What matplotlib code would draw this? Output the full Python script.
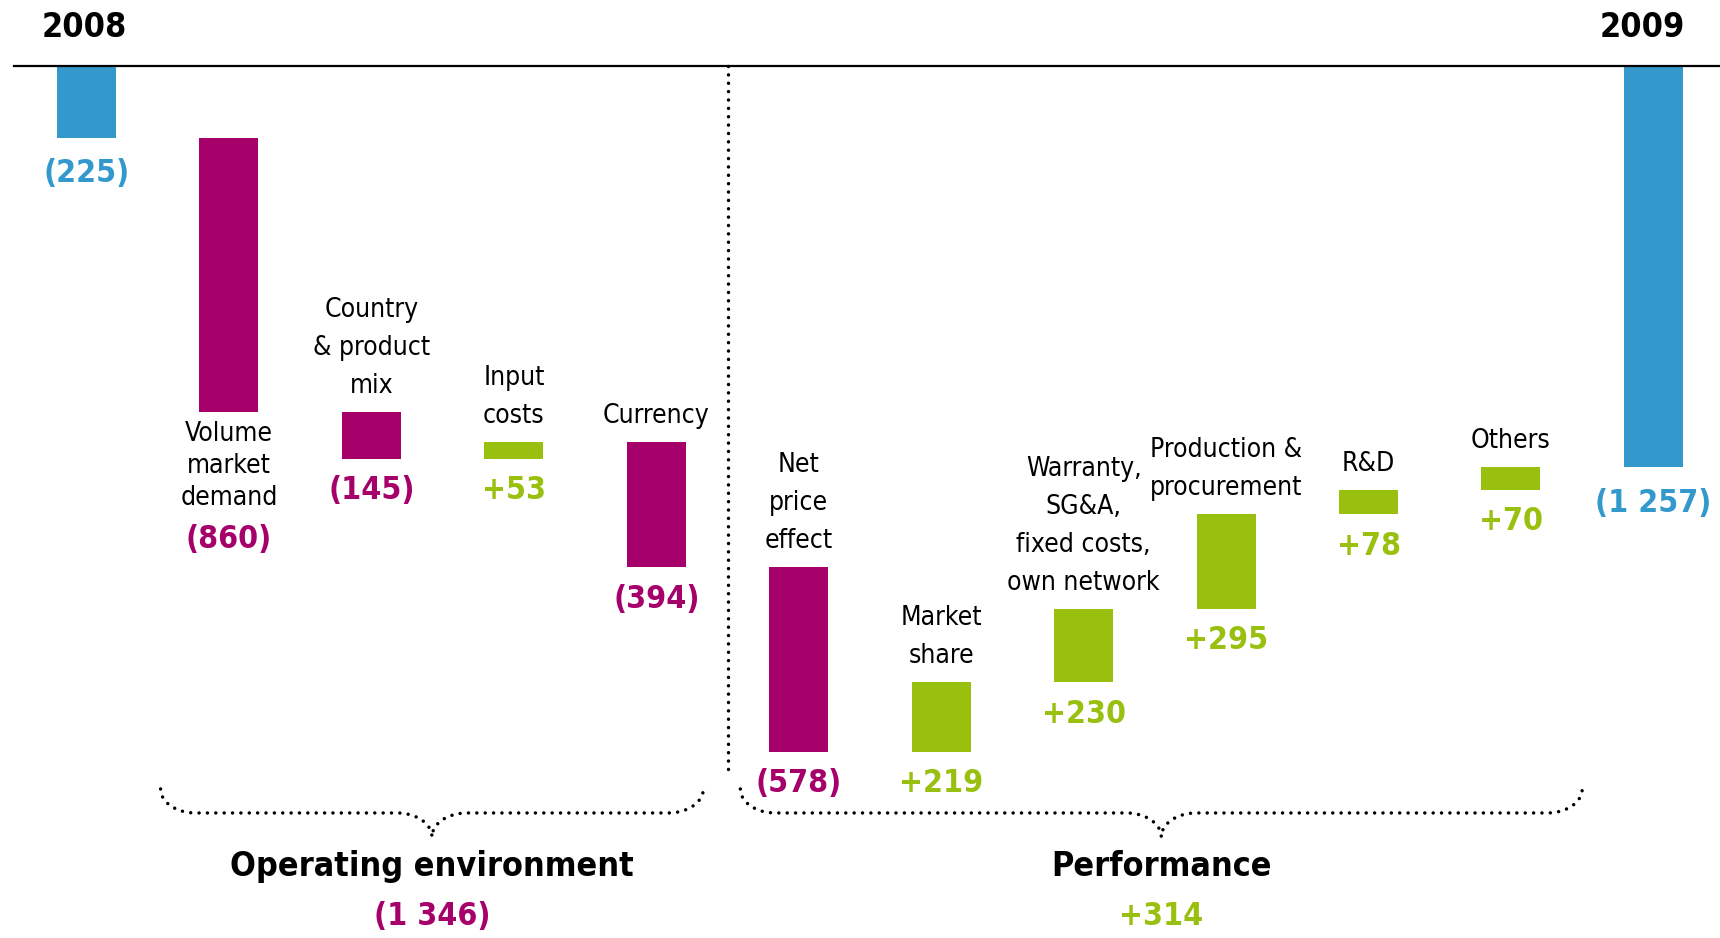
import matplotlib.pyplot as plt
import numpy as np

# EBIT bridge 2008 -> 2009
start_label = '2008'
end_label = '2009'
start_value = -225
categories = ['Volume\nmarket\ndemand', 'Country\n& product\nmix', 'Input\ncosts', 'Currency',
              'Net\nprice\neffect', 'Market\nshare', 'Warranty,\nSG&A,\nfixed costs,\nown network',
              'Production &\nprocurement', 'R&D', 'Others']
changes = [-860, -145, 53, -394, -578, 219, 230, 295, 78, 70]
groups = ['Operating environment', 'Performance']
group_sizes = [4, 6]

BLUE = '#3399CC'
MAGENTA = '#A6006B'
GREEN = '#99C00F'

# narrow look: DejaVu Sans Condensed
plt.rcParams['font.family'] = ['DejaVu Sans']
plt.rcParams['font.stretch'] = 'condensed'


def fmt(v):
    s = f'{abs(v):,}'.replace(',', ' ')
    return f'({s})' if v < 0 else f'+{s}'


# pixel layout of the canvas
W, H = 1720, 938
x0_px, dx_px = 86.5, 142.45      # first bar centre, bar pitch
y0_px, k = 66, 0.3192             # baseline, px per unit
px = 1 / k                        # one pixel in data units

fig = plt.figure(figsize=(W / 100, H / 100), dpi=100)
ax = fig.add_axes([0, 0, 1, 1])
ax.axis('off')
ax.set_xlim(-x0_px / dx_px, (W - x0_px) / dx_px)
ax.set_ylim(-(H - y0_px) / k, y0_px / k)

n = len(changes)
x = np.arange(n + 2)
after = start_value + np.cumsum(changes)
before = np.concatenate([[start_value], after[:-1]])
end_value = int(after[-1])
bw = 59 / dx_px

# bars
ax.bar(x[0], start_value, width=bw, color=BLUE)
ax.bar(x[1:-1], changes, bottom=before, width=bw,
       color=[GREEN if c > 0 else MAGENTA for c in changes])
ax.bar(x[-1], end_value, width=bw, color=BLUE)

# baseline
ax.axhline(0, xmin=14 / W, xmax=1, color='black', lw=1.6)

vkw = dict(textcoords='offset pixels', ha='center', va='center', fontsize=23, fontweight='bold')
ckw = dict(textcoords='offset pixels', ha='center', fontsize=19, linespacing=1.6)
tkw = dict(textcoords='offset pixels', ha='center', va='center', fontsize=24.5,
           fontweight='bold', color='black')

# start / end
for xi, val, lab, dx in [(x[0], start_value, start_label, -2), (x[-1], end_value, end_label, -11)]:
    ax.annotate(lab, (xi, 0), xytext=(dx, 39), **tkw)
    ax.annotate(fmt(val), (xi, val), xytext=(0, -36), color=BLUE, **vkw)

# changes
for i, (cat, c) in enumerate(zip(categories, changes)):
    xi = x[i + 1]
    lo, hi = min(before[i], after[i]), max(before[i], after[i])
    col = GREEN if c > 0 else MAGENTA
    if i == 0:
        ax.annotate(cat, (xi, lo), xytext=(0, -9), va='top', **{**ckw, 'linespacing': 1.28})
        ax.annotate(fmt(c), (xi, lo), xytext=(0, -127), color=col, **vkw)
    else:
        ax.annotate(cat, (xi, hi), xytext=(0, 13), va='bottom', **ckw)
        ax.annotate(fmt(c), (xi, lo), xytext=(0, -32), color=col, **vkw)

# group separator
dots = dict(color='black', lw=2.5, linestyle=(0, (0.01, 2.4)), dash_capstyle='round')
sep = x[1] + group_sizes[0] - 0.5
low = min(after.min(), end_value)
ax.plot([sep, sep], [0, low - 21 * px], **dots)

# braces under the groups
pads = [(0.48, 0.33), (0.41, 0.5)]
yb = low - 37 * px
d = 24 * px
r = 35 / dx_px
first = 1
for g, size, (pl, pr) in zip(groups, group_sizes, pads):
    idx = list(range(first, first + size))
    first += size
    xa, xb = idx[0] - pl, idx[-1] + pr
    xm = (xa + xb) / 2
    t = np.linspace(0, np.pi / 2, 30)
    left1 = np.c_[xa + r - r * np.cos(t), yb - d * np.sin(t)]
    left2 = np.c_[xm - r + r * np.sin(t), yb - d - d * (1 - np.cos(t))]
    right2 = np.c_[xm + r - r * np.sin(t[::-1]), yb - d - d * (1 - np.cos(t[::-1]))]
    right1 = np.c_[xb - r + r * np.cos(t[::-1]), yb - d * np.sin(t[::-1])]
    pts = np.vstack([left1, left2, right2, right1])
    ax.plot(pts[:, 0], pts[:, 1], **dots)
    total = sum(changes[i - 1] for i in idx)
    tip = yb - 2 * d
    ax.annotate(g, (xm, tip), xytext=(0, -30), **tkw)
    ax.annotate(fmt(total), (xm, tip), xytext=(0, -80),
                color=GREEN if total > 0 else MAGENTA, **vkw)

fig.savefig('out.png', dpi=100)
